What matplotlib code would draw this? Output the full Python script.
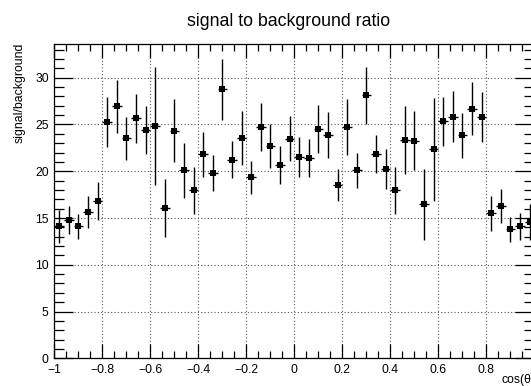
import matplotlib
matplotlib.use("Agg")
import matplotlib.pyplot as plt
from matplotlib.ticker import MultipleLocator, FuncFormatter
import numpy as np

plt.rcParams['font.family'] = ['Liberation Sans', 'DejaVu Sans']

bin_centers = np.arange(-0.98, 1.0, 0.04)
ratio = [14.1, 14.75, 14.1, 15.65, 16.85, 25.25, 26.95, 23.55, 25.65, 24.4,
         24.85, 16.1, 24.35, 20.1, 17.95, 21.8, 19.8, 28.75, 21.25, 23.55,
         19.35, 24.75, 22.75, 20.7, 23.5, 21.55, 21.4, 24.5, 23.9, 18.55,
         24.7, 20.1, 28.1, 21.85, 20.25, 17.95, 23.35, 23.25, 16.45, 22.35,
         25.35, 25.85, 23.85, 26.7, 25.8, 15.5, 16.3, 13.8, 14.1, 14.6]
ratio_err = [1.8, 1.5, 1.35, 1.7, 2.05, 2.7, 2.85, 2.3, 2.6, 2.55,
             6.3, 3.1, 3.35, 2.95, 2.55, 2.4, 1.9, 3.3, 2.0, 2.9,
             1.75, 2.6, 2.35, 2.05, 2.45, 2.15, 2.05, 2.6, 2.45, 1.7,
             3.0, 1.9, 3.1, 2.05, 2.15, 2.55, 3.6, 3.15, 3.8, 5.5,
             2.6, 2.7, 2.4, 2.8, 2.7, 1.9, 1.8, 1.35, 1.4, 1.9]
bin_half_width = 0.02

W, H = 531, 386
fig = plt.figure(figsize=(W / 100, H / 100), dpi=100)
left, right, bottom, top = 54.3, 534.3, 358.3, 43.5
ax = fig.add_axes([left / W, (H - bottom) / H, (right - left) / W, (bottom - top) / H])

ax.errorbar(bin_centers, ratio, yerr=ratio_err, xerr=bin_half_width, fmt='s',
            color='black', ms=4.2, elinewidth=1.0, capsize=0, mew=0)

ax.set_xlim(-1, 1)
ax.set_ylim(0, 33.66)
ax.xaxis.set_major_locator(MultipleLocator(0.2))
ax.xaxis.set_minor_locator(MultipleLocator(0.05))
ax.yaxis.set_major_locator(MultipleLocator(5))
ax.yaxis.set_minor_locator(MultipleLocator(1))


def xfmt(v, p):
    if v > 0.99:
        return ''
    return ('%g' % round(v, 2)).replace('-', '\u2212')


ax.xaxis.set_major_formatter(FuncFormatter(xfmt))
ax.yaxis.set_major_formatter(FuncFormatter(lambda v, p: '%g' % v))

ax.tick_params(axis='both', which='both', direction='in', top=True, right=True,
               labelsize=8.8, width=0.9, colors='black')
ax.tick_params(axis='x', which='major', length=10, pad=4)
ax.tick_params(axis='x', which='minor', length=5)
ax.tick_params(axis='y', which='major', length=14, pad=4)
ax.tick_params(axis='y', which='minor', length=7)
for s in ax.spines.values():
    s.set_linewidth(0.9)

ax.grid(True, which='major', linestyle=(0, (1, 2)), color='#555555', linewidth=0.8)
ax.set_axisbelow(True)

fig.text(289 / W, 1 - 21 / H, 'signal to background ratio', ha='center', va='center',
         fontsize=12.8)
fig.text(20 / W, 1 - 43 / H, 'signal/background', rotation=90, ha='center', va='top',
         fontsize=8.8)
fig.text(535 / W, 1 - 380.5 / H, 'cos(θ)', ha='right', va='center', fontsize=8.8)

fig.savefig('out.png', dpi=100)
